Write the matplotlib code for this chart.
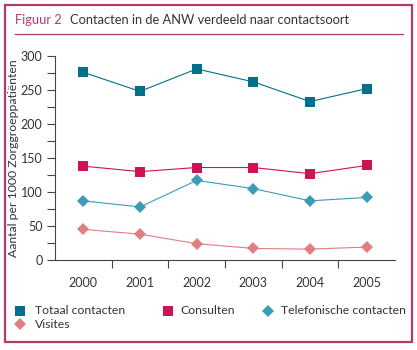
import matplotlib.pyplot as plt
from matplotlib.patches import Rectangle
from matplotlib.lines import Line2D

plt.rcParams['font.family'] = ['Lato', 'DejaVu Sans']

years = ['2000', '2001', '2002', '2003', '2004', '2005']
totaal = [276, 248, 281, 262, 233, 252]
consulten = [138, 130, 136, 136, 127, 139]
telefonisch = [87, 78, 117, 105, 87, 92]
visites = [45, 38, 24, 17, 16, 19]

labels = ['Totaal contacten', 'Consulten', 'Telefonische contacten', 'Visites']
colors = ['#00708c', '#cc1452', '#3a9db5', '#e07f82']
markers = ['s', 's', 'D', 'D']
sizes = [7.2, 7.2, 6.2, 6.2]

frame = '#b23a6c'
text_c = '#333333'

fig = plt.figure(figsize=(4.17, 3.5), dpi=100)

def fx(px):
    return px / 417

def fy(py):
    return 1 - py / 350

# outer frame and title
fig.patches.append(Rectangle((fx(5), fy(342)), 407 / 417, 337 / 350,
                             transform=fig.transFigure, fill=False,
                             edgecolor=frame, linewidth=1.6))
fig.lines.append(Line2D([fx(15), fx(403)], [fy(34), fy(34)],
                        transform=fig.transFigure, color=frame, linewidth=0.9))
fig.text(fx(15), fy(20), 'Figuur 2', color=frame, fontsize=9.3,
         va='center', ha='left')
fig.text(fx(70), fy(20), 'Contacten in de ANW verdeeld naar contactsoort',
         color=text_c, fontsize=9.3, va='center', ha='left')

ax = fig.add_axes([fx(55), fy(260), 340 / 417, 204 / 350])
x = range(len(years))
series = [totaal, consulten, telefonisch, visites]
for vals, c, m, s in zip(series, colors, markers, sizes):
    ax.plot(x, vals, color=c, linewidth=0.8, marker=m, markersize=s,
            markeredgewidth=0, clip_on=False)

ax.set_xlim(-0.5, 5.5)
ax.set_ylim(0, 300)
ax.set_xticks(list(x))
ax.set_xticklabels(years)
ax.set_xticks([i + 0.5 for i in range(5)], minor=True)
ax.tick_params(axis='x', which='major', length=0, pad=12, labelsize=9, labelcolor=text_c)
ax.tick_params(axis='x', which='minor', length=6, width=0.8, color='#444444', direction='out')
ax.set_yticks(range(0, 301, 50))
ax.set_yticks(range(25, 300, 50), minor=True)
ax.tick_params(axis='y', which='both', length=6, width=0.8, color='#444444', labelsize=9,
               labelcolor=text_c, pad=3)
for side in ['top', 'right']:
    ax.spines[side].set_visible(False)
for side in ['left', 'bottom']:
    ax.spines[side].set_color('#444444')
    ax.spines[side].set_linewidth(0.8)
ax.set_ylabel('Aantal per 1000 Zorggroeppatiënten', fontsize=8.8, color=text_c)
ax.yaxis.set_label_coords(-36 / 340, 0.5)

# legend, laid out by hand in the reference's rows
leg_marker_x = [20, 168, 268, 20]
leg_y = [311, 311, 311, 324]
leg_text_x = [35, 180, 281, 35]
for i in range(len(labels)):
    fig.lines.append(Line2D([fx(leg_marker_x[i])], [fy(leg_y[i])], transform=fig.transFigure,
                            color=colors[i], marker=markers[i], markersize=sizes[i],
                            markeredgewidth=0, linestyle='none'))
    fig.text(fx(leg_text_x[i]), fy(leg_y[i]), labels[i], fontsize=8.8, color=text_c,
             va='center', ha='left')

fig.savefig('out.png', dpi=100)
